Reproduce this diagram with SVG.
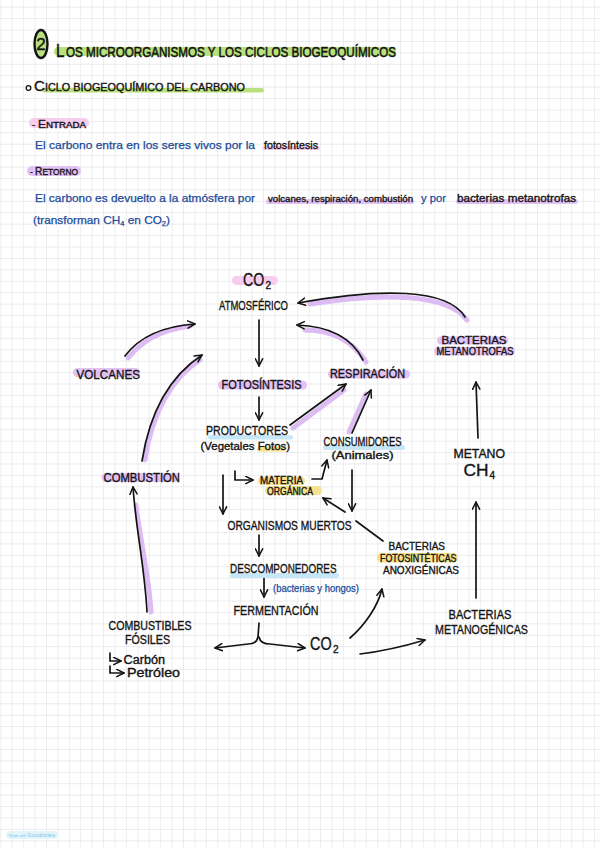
<svg xmlns="http://www.w3.org/2000/svg" width="600" height="848" viewBox="0 0 600 848">
<defs>
<pattern id="grid" x="0.3" y="6.7" width="11.42" height="11.42" patternUnits="userSpaceOnUse">
<path d="M0 0H11.42M0 0V11.42" fill="none" stroke="#e5e5e8" stroke-width="1.3"/>
</pattern>
<marker id="ah" viewBox="0 0 10 10" refX="9" refY="5" markerWidth="9" markerHeight="9" markerUnits="userSpaceOnUse" orient="auto">
<path d="M1 1L9 5L1 9" fill="none" stroke="#141414" stroke-width="1.7" stroke-linecap="round" stroke-linejoin="round"/>
</marker>
</defs>
<style>
text{font-family:"Liberation Sans Narrow","Liberation Sans",Arial,sans-serif;fill:#141414;stroke:#141414;stroke-width:0.35}
.lb{font-size:13px}
.sm{font-size:10.3px}
.bl{fill:#1b4b9b;stroke:#1b4b9b;font-size:11px;stroke-width:0.25}
.hp{fill:#f7cdee}
.hv{fill:#e2c2f4}
.hg{fill:#b8e07c}
.hy{fill:#f8e08c}
.hb{fill:#c5e7f7}
.c{fill:none;stroke:#141414;stroke-width:1.7;stroke-linecap:round;stroke-linejoin:round}
.sh{fill:none;stroke:#dcbcf2;stroke-width:5;stroke-linecap:round}
</style>
<rect width="600" height="848" fill="#ffffff"/>
<rect width="600" height="848" fill="url(#grid)"/>

<g id="title">
<rect class="hg" x="54" y="47" width="342" height="9" rx="4.5"/>
<ellipse cx="41" cy="44" rx="6.5" ry="14" fill="#b8e07c" stroke="#141414" stroke-width="2.4"/>
<text x="41" y="50" font-size="17" text-anchor="middle">2</text>
<text transform="translate(56 57) scale(0.8 1)" font-size="19" style="stroke-width:0.5">L</text>
<text x="66" y="57" font-size="14" textLength="330" lengthAdjust="spacingAndGlyphs" style="stroke-width:0.5">OS MICROORGANISMOS Y LOS CICLOS BIOGEOQUÍMICOS</text>
</g>

<g id="subtitle">
<rect class="hg" x="42" y="88" width="222" height="4.5" rx="2.2"/>
<circle cx="28.5" cy="88" r="2.3" fill="none" stroke="#141414" stroke-width="1.3"/>
<text x="34" y="91" font-size="10" textLength="211" lengthAdjust="spacingAndGlyphs"><tspan font-size="14">C</tspan>ICLO BIOGEOQUÍMICO DEL CARBONO</text>
</g>

<g id="entrada">
<rect class="hp" x="29" y="118" width="60" height="10" rx="5"/>
<text x="32" y="127.5" font-size="9" textLength="54" lengthAdjust="spacingAndGlyphs">- <tspan font-size="11">E</tspan>NTRADA</text>
<rect class="hp" x="262" y="146" width="58" height="4" rx="2"/>
<text class="bl" x="35" y="149" textLength="220" lengthAdjust="spacingAndGlyphs">El carbono entra en los seres vivos por la</text>
<text x="264" y="149" font-size="11" textLength="54" lengthAdjust="spacingAndGlyphs">fotosíntesis</text>
</g>

<g id="retorno">
<rect class="hv" x="27" y="166" width="54" height="10" rx="5"/>
<text x="30" y="175" font-size="9" textLength="48" lengthAdjust="spacingAndGlyphs">- <tspan font-size="11">R</tspan>ETORNO</text>
<rect class="hv" x="266" y="199" width="148" height="5" rx="2.5"/>
<rect class="hv" x="456" y="199" width="122" height="5" rx="2.5"/>
<text class="bl" x="35" y="202" textLength="220" lengthAdjust="spacingAndGlyphs">El carbono es devuelto a la atmósfera por</text>
<text x="268" y="202" font-size="9.5" textLength="145" lengthAdjust="spacingAndGlyphs">volcanes, respiración, combustión</text>
<text class="bl" x="421" y="202" textLength="25" lengthAdjust="spacingAndGlyphs">y por</text>
<text x="457" y="202" font-size="10.5" textLength="119" lengthAdjust="spacingAndGlyphs">bacterias metanotrofas</text>
<text class="bl" x="33" y="224" textLength="137" lengthAdjust="spacingAndGlyphs">(transforman CH<tspan font-size="7" dy="2">4</tspan><tspan dy="-2"> en CO</tspan><tspan font-size="7" dy="2">2</tspan><tspan dy="-2">)</tspan></text>
</g>

<g id="connectors">
<path class="sh" d="M310 304C385 292 448 294 467 320"/>
<path class="sh" d="M305 330C330 330 352 340 366 362"/>
<path class="sh" d="M128 358C142 341 160 330 190 326"/>
<path class="sh" d="M145 460C152 412 172 378 200 360"/>
<path class="sh" d="M293 428L344 390"/>
<path class="sh" d="M349 432L366 394"/>
<path class="sh" d="M151 612C149 575 140 540 136 505"/>

<path class="c" d="M465 317C448 288 380 288 298 303" marker-end="url(#ah)"/>
<path class="c" d="M363 360C350 334 325 326 297 325" marker-end="url(#ah)"/>
<path class="c" d="M259 320V366" marker-end="url(#ah)"/>
<path class="c" d="M125 356C140 336 165 326 195 324" marker-end="url(#ah)"/>
<path class="c" d="M142 461C150 410 170 376 202 355" marker-end="url(#ah)"/>
<path class="c" d="M259 397V420" marker-end="url(#ah)"/>
<path class="c" d="M290 425L346 384" marker-end="url(#ah)"/>
<path class="c" d="M352 433L371 390" marker-end="url(#ah)"/>
<path class="c" d="M235 471V480H253" marker-end="url(#ah)"/>
<path class="c" d="M312 479H322L327 460" marker-end="url(#ah)"/>
<path class="c" d="M223 475V514" marker-end="url(#ah)"/>
<path class="c" d="M352 470V511" marker-end="url(#ah)"/>
<path class="c" d="M345 512L323 498" marker-end="url(#ah)"/>
<path class="c" d="M356 521L383 541"/>
<path class="c" d="M259 535V556" marker-end="url(#ah)"/>
<path class="c" d="M264 578V597" marker-end="url(#ah)"/>
<path class="c" d="M259 623L258 637C257 642 254 644 248 644L215 648" marker-end="url(#ah)"/>
<path class="c" d="M259 637C260 642 264 644 270 644L305 648" marker-end="url(#ah)"/>
<path class="c" d="M350 638C365 625 378 606 382 589" marker-end="url(#ah)"/>
<path class="c" d="M360 654C385 651 405 646 425 640" marker-end="url(#ah)"/>
<path class="c" d="M476 598V502" marker-end="url(#ah)"/>
<path class="c" d="M478 438L476 382" marker-end="url(#ah)"/>
<path class="c" d="M147 612C145 570 136 530 133 487" marker-end="url(#ah)"/>
</g>

<g id="co2-atmosferico">
<rect class="hp" x="232" y="276" width="46" height="9" rx="4.5"/>
<text transform="translate(243 286) scale(0.79 1)" font-size="18">CO</text>
<text x="265.5" y="288.5" font-size="10">2</text>
<text class="lb" x="219" y="309.5" textLength="69" lengthAdjust="spacingAndGlyphs">ATMOSFÉRICO</text>
</g>

<g id="fotosintesis">
<rect class="hv" x="218" y="380.5" width="89" height="9" rx="4.5"/>
<text class="lb" x="221.5" y="388.5" textLength="80" lengthAdjust="spacingAndGlyphs">FOTOSÍNTESIS</text>
</g>

<g id="respiracion">
<rect class="hv" x="328" y="370" width="82" height="8.5" rx="4.2"/>
<text class="lb" x="330" y="377.5" textLength="75" lengthAdjust="spacingAndGlyphs">RESPIRACIÓN</text>
</g>

<g id="bacterias-metanotrofas">
<rect class="hv" x="437" y="336.5" width="71" height="8" rx="4"/>
<rect class="hv" x="434" y="347" width="81" height="8.5" rx="4.2"/>
<text class="sm" x="441.5" y="343.5" textLength="65" lengthAdjust="spacingAndGlyphs">BACTERIAS</text>
<text class="sm" x="436.5" y="355" textLength="77" lengthAdjust="spacingAndGlyphs">METANOTROFAS</text>
</g>

<g id="volcanes">
<rect class="hv" x="73" y="368" width="67" height="9" rx="4.5"/>
<text class="lb" x="76.5" y="378.5" textLength="63.5" lengthAdjust="spacingAndGlyphs">VOLCANES</text>
</g>

<g id="productores">
<rect class="hb" x="208" y="435" width="85" height="4.5" rx="2.2"/>
<rect class="hy" x="257" y="446.5" width="28" height="5" rx="2.5"/>
<text class="lb" x="206" y="435" textLength="82" lengthAdjust="spacingAndGlyphs">PRODUCTORES</text>
<text x="200.5" y="449.5" font-size="10.5" textLength="89.5" lengthAdjust="spacingAndGlyphs">(Vegetales Fotos)</text>
</g>

<g id="consumidores">
<rect class="hb" x="323" y="445" width="82" height="5" rx="2.5"/>
<text x="323.5" y="446" font-size="12" textLength="78" lengthAdjust="spacingAndGlyphs">CONSUMIDORES</text>
<text x="331.5" y="458.5" font-size="10.3" textLength="62" lengthAdjust="spacingAndGlyphs">(Animales)</text>
</g>

<g id="materia-organica">
<rect class="hy" x="258" y="476.5" width="47" height="8.5" rx="4.2"/>
<rect class="hy" x="265" y="486" width="57" height="9" rx="4.5"/>
<text class="sm" x="260" y="483.5" textLength="43" lengthAdjust="spacingAndGlyphs">MATERIA</text>
<text class="sm" x="267" y="495" textLength="46" lengthAdjust="spacingAndGlyphs">ORGÁNICA</text>
</g>

<g id="combustion">
<rect class="hv" x="101.5" y="473" width="77" height="9" rx="4.5"/>
<text class="lb" x="103.5" y="481.5" textLength="76.5" lengthAdjust="spacingAndGlyphs">COMBUSTIÓN</text>
</g>

<g id="metano">
<text x="453.5" y="458" font-size="12" textLength="51.5" lengthAdjust="spacingAndGlyphs">METANO</text>
<text x="463.5" y="476" font-size="16" textLength="25" lengthAdjust="spacingAndGlyphs">CH</text>
<text x="489.5" y="478.5" font-size="10">4</text>
</g>

<g id="organismos-muertos">
<text class="lb" x="227.5" y="530" textLength="124" lengthAdjust="spacingAndGlyphs">ORGANISMOS MUERTOS</text>
</g>

<g id="bacterias-fotosinteticas">
<rect class="hy" x="377" y="553" width="81" height="9.5" rx="4.7"/>
<text x="388.5" y="549.5" font-size="10.5" textLength="56.5" lengthAdjust="spacingAndGlyphs">BACTERIAS</text>
<text x="380" y="561.5" font-size="10.3" textLength="76.5" lengthAdjust="spacingAndGlyphs">FOTOSINTÉTICAS</text>
<text x="383" y="574" font-size="10.5" textLength="76" lengthAdjust="spacingAndGlyphs">ANOXIGÉNICAS</text>
</g>

<g id="descomponedores">
<rect class="hb" x="230" y="573" width="109" height="5" rx="2.5"/>
<text class="lb" x="230" y="572.5" textLength="106.5" lengthAdjust="spacingAndGlyphs">DESCOMPONEDORES</text>
<text class="bl" x="273" y="591.5" style="font-size:10px" textLength="86" lengthAdjust="spacingAndGlyphs">(bacterias y hongos)</text>
</g>

<g id="fermentacion">
<text class="lb" x="233.5" y="615" textLength="85" lengthAdjust="spacingAndGlyphs">FERMENTACIÓN</text>
</g>

<g id="co2-bottom">
<text transform="translate(310 650) scale(0.8 1)" font-size="18">CO</text>
<text x="333" y="652.5" font-size="10">2</text>
</g>

<g id="bacterias-metanogenicas">
<text class="lb" x="448.5" y="618.5" textLength="63" lengthAdjust="spacingAndGlyphs">BACTERIAS</text>
<text class="lb" x="435" y="633.5" textLength="93" lengthAdjust="spacingAndGlyphs">METANOGÉNICAS</text>
</g>

<g id="combustibles-fosiles">
<text x="108.5" y="630" font-size="12" textLength="83" lengthAdjust="spacingAndGlyphs">COMBUSTIBLES</text>
<text x="125" y="643.5" font-size="12" textLength="45" lengthAdjust="spacingAndGlyphs">FÓSILES</text>
<path class="c" d="M110 653V661H121" stroke-width="1.4" marker-end="url(#ah)"/>
<text x="123.5" y="663.5" font-size="12" textLength="41.5" lengthAdjust="spacingAndGlyphs">Carbón</text>
<path class="c" d="M110 666V673H124" stroke-width="1.4" marker-end="url(#ah)"/>
<text x="127" y="677" font-size="12" textLength="53" lengthAdjust="spacingAndGlyphs">Petróleo</text>
</g>

<g id="watermark">
<rect x="6" y="831" width="52" height="8" rx="4" fill="#e3f4fb"/>
<text x="9" y="837" font-size="6" textLength="46" lengthAdjust="spacingAndGlyphs" style="fill:#7ec8e6;stroke:none"><tspan font-size="4">Made with </tspan>Goodnotes</text>
</g>
</svg>
